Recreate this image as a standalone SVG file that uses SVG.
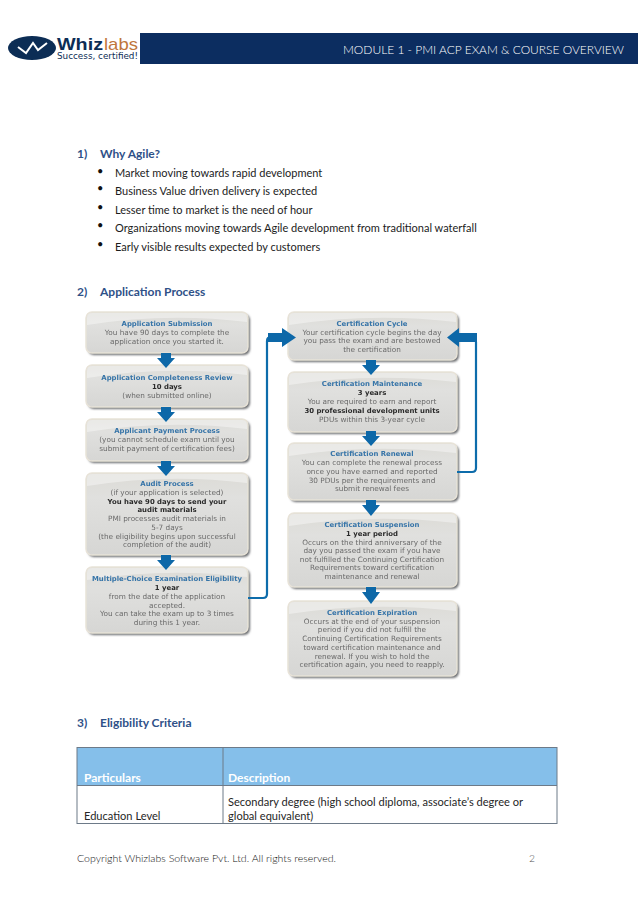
<svg xmlns="http://www.w3.org/2000/svg" width="638" height="903" viewBox="0 0 638 903">
<style>
text{font-family:"Lato","Liberation Sans",sans-serif}
.h{font-size:12px;font-weight:700;fill:#2f5188}
.b{font-size:11px;fill:#1c1c1c}
.d{font-size:11.08px;fill:#262626}
.th{font-size:12px;font-weight:700;fill:#fff}
.n text{font-family:"DejaVu Sans",sans-serif;font-size:7.3px;text-anchor:middle;fill:#6a6a6a}
.n .t{font-weight:700;font-size:6.9px;fill:#3674a8}
.n .k{font-weight:700;font-size:6.9px;fill:#2a2a2a}
.box{fill:url(#g);stroke:#e8e3d8;stroke-width:1.5}
.sh{fill:#6a6d6f;filter:url(#s)}
.gl{fill:#fff;opacity:.4}
.ln{fill:none;stroke:#0f6cab;stroke-width:2.2}
.ar{fill:#0f68a8}
.tb{fill:none;stroke:#6d7a88;stroke-width:1}
</style>
<defs>
<linearGradient id="g" x1="0" y1="0" x2="0" y2="1"><stop offset="0" stop-color="#dcdbd6"/><stop offset=".3" stop-color="#e0e0de"/><stop offset="1" stop-color="#d6d6d4"/></linearGradient>
<filter id="s" x="-10%" y="-15%" width="120%" height="130%"><feGaussianBlur stdDeviation="1"/></filter>
<filter id="t" x="-5%" y="-5%" width="110%" height="110%"><feGaussianBlur stdDeviation="0.35"/></filter>
</defs>
<rect width="638" height="903" fill="#fff"/>
<g id="header">
<rect x="140" y="33" width="498" height="31" fill="#0c2d60"/>
<text x="343" y="54" font-size="11.800" font-weight="300" fill="#fff" textLength="281" lengthAdjust="spacingAndGlyphs">MODULE 1 - PMI ACP EXAM &amp; COURSE OVERVIEW</text>
</g>
<g id="logo">
<ellipse cx="32" cy="48" rx="24" ry="12" fill="#0c2d55"/>
<path d="M18 47 L26 53 L33 43 L38 50 L47 43" fill="none" stroke="#fff" stroke-width="2"/>
<text x="57" y="49.500" font-size="17" font-weight="700" fill="#0c2d55" textLength="46" lengthAdjust="spacingAndGlyphs" style="font-family:'Liberation Sans',sans-serif">Whiz</text>
<text x="104" y="49.500" font-size="17" fill="#c0763c" textLength="34" lengthAdjust="spacingAndGlyphs" style="font-family:'Liberation Sans',sans-serif">labs</text>
<text x="57" y="59" font-size="8" fill="#0c2d55" textLength="81" lengthAdjust="spacingAndGlyphs" style="font-family:'DejaVu Sans',sans-serif">Success, certified!</text>
</g>
<g id="why-agile">
<text class="h" x="77" y="158">1)</text><text class="h" x="100" y="158">Why Agile?</text>
<g font-size="11" fill="#111" style="font-family:'Liberation Sans',sans-serif"><text x="97" y="175">•</text><text x="97" y="192">•</text><text x="97" y="211">•</text><text x="97" y="229">•</text><text x="97" y="248">•</text></g>
<text class="b" x="115" y="177">Market moving towards rapid development</text>
<text class="b" x="115" y="195">Business Value driven delivery is expected</text>
<text class="b" x="115" y="214">Lesser time to market is the need of hour</text>
<text class="b" x="115" y="232">Organizations moving towards Agile development from traditional waterfall</text>
<text class="b" x="115" y="251">Early visible results expected by customers</text>
</g>
<g id="application-heading"><text class="h" x="77" y="296">2)</text><text class="h" x="100" y="296">Application Process</text></g>

<g id="n1" class="n" filter="url(#t)"><rect class="sh" x="88" y="314" width="162" height="41" rx="6"/><rect class="box" x="86" y="312" width="162" height="41" rx="6"/><path class="gl" d="M87 318Q87 313 92 313H242Q247 313 247 318V322Q167 312 87 325Z"/>
<text class="t" x="167" y="326">Application Submission</text><text x="167" y="335">You have 90 days to complete the</text><text x="167" y="343.500">application once you started it.</text></g>
<g id="n2" class="n" filter="url(#t)"><rect class="sh" x="88" y="367" width="162" height="42" rx="6"/><rect class="box" x="86" y="365" width="162" height="42" rx="6"/><path class="gl" d="M87 371Q87 366 92 366H242Q247 366 247 371V375Q167 365 87 378Z"/>
<text class="t" x="167" y="380">Application Completeness Review</text><text class="k" x="167" y="389">10 days</text><text x="167" y="397.500">(when submitted online)</text></g>
<g id="n3" class="n" filter="url(#t)"><rect class="sh" x="88" y="421" width="162" height="42" rx="6"/><rect class="box" x="86" y="419" width="162" height="42" rx="6"/><path class="gl" d="M87 425Q87 420 92 420H242Q247 420 247 425V429Q167 419 87 432Z"/>
<text class="t" x="167" y="433">Applicant Payment Process</text><text x="167" y="442">(you cannot schedule exam until you</text><text x="167" y="451">submit payment of certification fees)</text></g>
<g id="n4" class="n" filter="url(#t)"><rect class="sh" x="88" y="475" width="162" height="82" rx="6"/><rect class="box" x="86" y="473" width="162" height="82" rx="6"/><path class="gl" d="M87 479Q87 474 92 474H242Q247 474 247 479V483Q167 473 87 486Z"/>
<text class="t" x="167" y="486">Audit Process</text><text x="167" y="494.500">(if your application is selected)</text><text class="k" x="167" y="503.500">You have 90 days to send your</text><text class="k" x="167" y="512">audit materials</text><text x="167" y="521">PMI processes audit materials in</text><text x="167" y="529.500">5-7 days</text><text x="167" y="538.500">(the eligibility begins upon successful</text><text x="167" y="547">completion of the audit)</text></g>
<g id="n5" class="n" filter="url(#t)"><rect class="sh" x="88" y="569" width="162" height="66" rx="6"/><rect class="box" x="86" y="567" width="162" height="66" rx="6"/><path class="gl" d="M87 573Q87 568 92 568H242Q247 568 247 573V577Q167 567 87 580Z"/>
<text class="t" x="167" y="581">Multiple-Choice Examination Eligibility</text><text class="k" x="167" y="590">1 year</text><text x="167" y="598.500">from the date of the application</text><text x="167" y="607.500">accepted.</text><text x="167" y="616">You can take the exam up to 3 times</text><text x="167" y="625">during this 1 year.</text></g>

<g id="n6" class="n" filter="url(#t)"><rect class="sh" x="290" y="314" width="169" height="48" rx="6"/><rect class="box" x="288" y="312" width="169" height="48" rx="6"/><path class="gl" d="M289 318Q289 313 294 313H451Q456 313 456 318V322Q372 312 289 325Z"/>
<text class="t" x="372" y="326">Certification Cycle</text><text x="372" y="334.500">Your certification cycle begins the day</text><text x="372" y="343">you pass the exam and are bestowed</text><text x="372" y="351.500">the certification</text></g>
<g id="n7" class="n" filter="url(#t)"><rect class="sh" x="290" y="374" width="169" height="60" rx="6"/><rect class="box" x="288" y="372" width="169" height="60" rx="6"/><path class="gl" d="M289 378Q289 373 294 373H451Q456 373 456 378V382Q372 372 289 385Z"/>
<text class="t" x="372" y="386">Certification Maintenance</text><text class="k" x="372" y="395">3 years</text><text x="372" y="404">You are required to earn and report</text><text class="k" x="372" y="412.500">30 professional development units</text><text x="372" y="421.500">PDUs within this 3-year cycle</text></g>
<g id="n8" class="n" filter="url(#t)"><rect class="sh" x="290" y="445" width="169" height="57" rx="6"/><rect class="box" x="288" y="443" width="169" height="57" rx="6"/><path class="gl" d="M289 449Q289 444 294 444H451Q456 444 456 449V453Q372 443 289 456Z"/>
<text class="t" x="372" y="456">Certification Renewal</text><text x="372" y="465">You can complete the renewal process</text><text x="372" y="473.500">once you have earned and reported</text><text x="372" y="482.500">30 PDUs per the requirements and</text><text x="372" y="491">submit renewal fees</text></g>
<g id="n9" class="n" filter="url(#t)"><rect class="sh" x="290" y="515" width="169" height="74" rx="6"/><rect class="box" x="288" y="513" width="169" height="74" rx="6"/><path class="gl" d="M289 519Q289 514 294 514H451Q456 514 456 519V523Q372 513 289 526Z"/>
<text class="t" x="372" y="527">Certification Suspension</text><text class="k" x="372" y="535.500">1 year period</text><text x="372" y="544.500">Occurs on the third anniversary of the</text><text x="372" y="553">day you passed the exam if you have</text><text x="372" y="561.500">not fulfilled the Continuing Certification</text><text x="372" y="570">Requirements toward certification</text><text x="372" y="578.500">maintenance and renewal</text></g>
<g id="n10" class="n" filter="url(#t)"><rect class="sh" x="290" y="603" width="169" height="75" rx="6"/><rect class="box" x="288" y="601" width="169" height="75" rx="6"/><path class="gl" d="M289 607Q289 602 294 602H451Q456 602 456 607V611Q372 601 289 614Z"/>
<text class="t" x="372" y="615">Certification Expiration</text><text x="372" y="623.500">Occurs at the end of your suspension</text><text x="372" y="632">period if you did not fulfill the</text><text x="372" y="641">Continuing Certification Requirements</text><text x="372" y="650">toward certification maintenance and</text><text x="372" y="658.500">renewal. If you wish to hold the</text><text x="372" y="667">certification again, you need to reapply.</text></g>

<g id="connectors" filter="url(#t)">
<path class="ln" d="M248 598H263Q267 598 267 594V341Q267 337 271 337H284"/>
<path class="ln" d="M457 472H472Q476 472 476 468V342Q476 337 471 337H456"/>
<path class="ar" d="M268 333H282V328L296 337.500L282 347V342H268Z"/>
<path class="ar" d="M477 333H459V328L447 337.500L459 347V342H477Z"/>
<path class="ar" d="M161 353H171V358H175L166 368L157 358H161Z"/>
<path class="ar" d="M161 407H171V412H175L166 422L157 412H161Z"/>
<path class="ar" d="M161 461H171V466H175L166 476L157 466H161Z"/>
<path class="ar" d="M161 555H171V560H175L166 570L157 560H161Z"/>
<path class="ar" d="M366 360H376V365H380L371 375L362 365H366Z"/>
<path class="ar" d="M366 431H376V436H380L371 446L362 436H366Z"/>
<path class="ar" d="M366 500H376V505H380L371 516L362 505H366Z"/>
<path class="ar" d="M366 587H376V592H380L371 604L362 592H366Z"/>
</g>

<g id="eligibility">
<text class="h" x="77" y="727">3)</text><text class="h" x="100" y="727">Eligibility Criteria</text>
<rect x="77" y="747.500" width="480" height="38" fill="#85bfea"/>
<rect class="tb" x="77" y="747.500" width="480" height="76"/>
<path class="tb" d="M77 785.500H557M223 747.500V823.500"/>
<text class="th" x="84" y="782">Particulars</text><text class="th" x="228" y="782">Description</text>
<text class="d" x="84" y="820">Education Level</text>
<text class="d" x="228" y="806">Secondary degree (high school diploma, associate’s degree or</text>
<text class="d" x="228" y="820">global equivalent)</text>
</g>
<g id="footer">
<text x="77" y="862" font-size="10.300" font-weight="300" fill="#111" textLength="259" lengthAdjust="spacingAndGlyphs">Copyright Whizlabs Software Pvt. Ltd. All rights reserved.</text>
<text x="529" y="862" font-size="10.300" font-weight="300" fill="#555">2</text>
</g>
</svg>
